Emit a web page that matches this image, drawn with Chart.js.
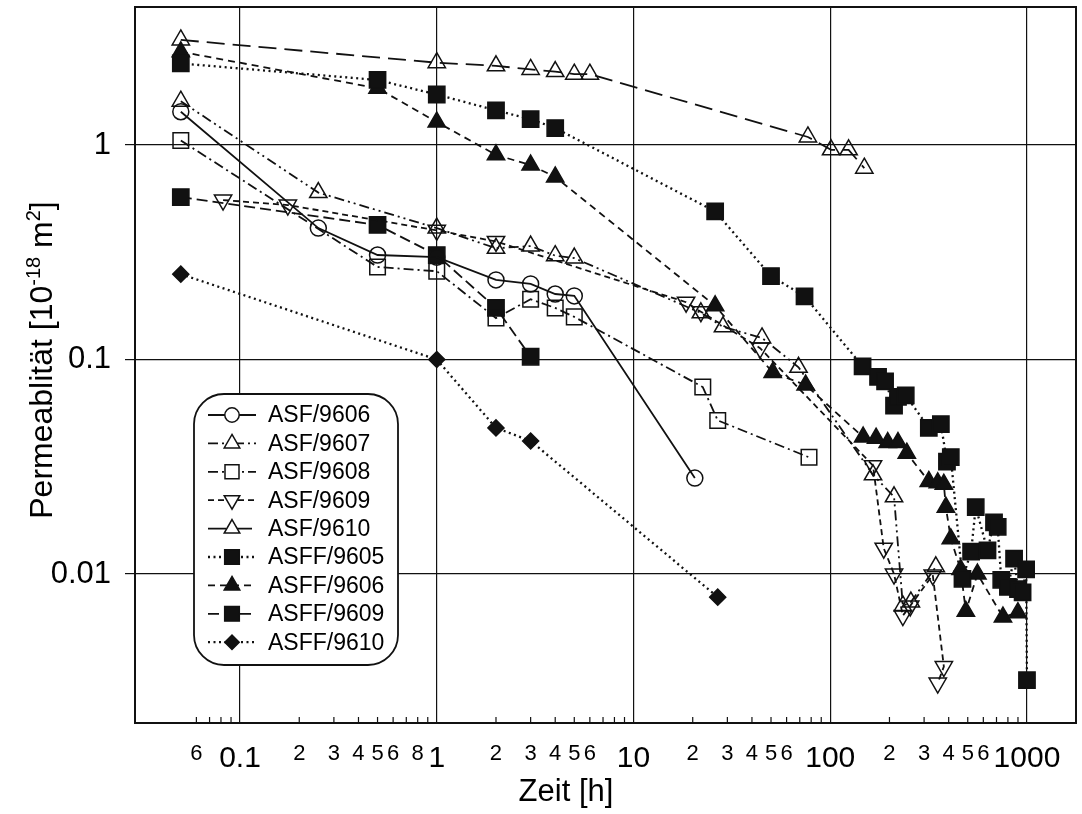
<!DOCTYPE html>
<html>
<head>
<meta charset="utf-8">
<script src="https://cdn.jsdelivr.net/npm/chart.js@4.4.0/dist/chart.umd.min.js"></script>
<style>
  html, body { margin: 0; padding: 0; background: #fff; }
</style>
</head>
<body>
<canvas id="chart" width="1082" height="814"></canvas>
<script>
// time [h] and permeability [1e-18 m2] per sample
const asf9606T = [0.05, 0.25, 0.5, 1, 2, 3, 4, 5, 20.5];
const asf9606K = [1.43, 0.41, 0.307, 0.30, 0.235, 0.225, 0.202, 0.198, 0.028];

const asf9607T = [0.05, 0.25, 1, 2, 3, 4, 5, 22, 28.5, 45, 69, 165, 211, 234, 257, 344];
const asf9607K = [1.6, 0.60, 0.41, 0.33, 0.338, 0.305, 0.297, 0.165, 0.142, 0.126, 0.092, 0.029, 0.0229, 0.0071, 0.0074, 0.0108];

const asf9608T = [0.05, 0.5, 1, 2, 3, 4, 5, 22.5, 26.8, 78];
const asf9608K = [1.05, 0.27, 0.258, 0.156, 0.191, 0.174, 0.158, 0.0744, 0.052, 0.035];

const asf9609T = [0.082, 0.175, 1, 2, 18.5, 22, 44, 165, 187, 211, 234, 255, 332, 378, 352];
const asf9609K = [0.554, 0.525, 0.40, 0.355, 0.185, 0.167, 0.113, 0.032, 0.0132, 0.010, 0.0064, 0.0071, 0.0099, 0.0037, 0.0031];

const asf9610T = [0.05, 1, 2, 3, 4, 5, 6, 77, 101, 124, 149];
const asf9610K = [3.09, 2.42, 2.34, 2.25, 2.20, 2.14, 2.14, 1.09, 0.95, 0.95, 0.78];

const asff9605T = [0.05, 0.5, 1, 2, 3, 4, 26, 50, 74, 146, 175, 190, 211, 221, 242, 317, 365, 392, 410,
                   470, 520, 549, 630, 680, 710, 740, 800, 860, 900, 950, 990, 1000];
const asff9605K = [2.40, 2.01, 1.72, 1.45, 1.32, 1.20, 0.49, 0.245, 0.197, 0.093, 0.083, 0.079, 0.061, 0.067, 0.068, 0.048, 0.050, 0.0334, 0.0351,
                   0.0095, 0.0127, 0.0205, 0.0129, 0.0174, 0.0166, 0.0094, 0.0087, 0.0118, 0.0085, 0.0082, 0.0105, 0.0032];

const asff9606T = [0.05, 0.5, 1, 2, 3, 4, 26, 51, 75, 147, 171, 196, 221, 245, 317, 352, 378, 387, 410, 460, 489, 560, 755, 899];
const asff9606K = [2.72, 1.84, 1.28, 0.90, 0.806, 0.71, 0.178, 0.087, 0.076, 0.0435, 0.043, 0.041, 0.041, 0.0366, 0.027, 0.0266, 0.0262, 0.0205, 0.0146, 0.0105, 0.0067, 0.0100, 0.0063, 0.0066];

const asff9609T = [0.05, 0.5, 1, 2, 3];
const asff9609K = [0.572, 0.424, 0.307, 0.174, 0.103];

const asff9610T = [0.05, 1, 2, 3, 26.8];
const asff9610K = [0.25, 0.10, 0.048, 0.0417, 0.0078];

// axes
const xMajor = [0.1, 1, 10, 100, 1000];
const xMinor = [0.06, 0.07, 0.08, 0.09, 0.2, 0.3, 0.4, 0.5, 0.6, 0.7, 0.8, 0.9,
                2, 3, 4, 5, 6, 7, 8, 9, 20, 30, 40, 50, 60, 70, 80, 90,
                200, 300, 400, 500, 600, 700, 800, 900];
const xLabelVals = [0.06, 0.1, 0.2, 0.3, 0.4, 0.5, 0.6, 0.8, 1, 2, 3, 4, 5, 6, 10,
                    20, 30, 40, 50, 60, 100, 200, 300, 400, 500, 600, 1000];
const xLabelText = ['6', '0.1', '2', '3', '4', '5', '6', '8', '1', '2', '3', '4', '5', '6', '10',
                    '2', '3', '4', '5', '6', '100', '2', '3', '4', '5', '6', '1000'];
const yTickVals = [0.01, 0.1, 1];
const yTickText = ['0.01', '0.1', '1'];

const FONT = '"Liberation Sans", Arial, Helvetica, sans-serif';
const INK = '#111';

function pts(t, k) {
    return t.map((x, i) => ({ x: x, y: k[i] }));
}

function series(label, t, k, dash, style, filled, radius, rot) {
    const dotted = dash.length === 2 && dash[0] <= 2;
    return {
        label: label,
        data: pts(t, k),
        showLine: true,
        borderColor: INK,
        borderWidth: dotted ? 2.3 : 1.8,
        borderDash: dash,
        pointStyle: style,
        pointRadius: radius,
        pointRotation: rot || 0,
        pointBorderWidth: 1.5,
        pointBorderColor: INK,
        pointBackgroundColor: filled ? INK : 'rgba(255,255,255,0)',
        filledMark: filled
    };
}

const datasets = [
    series('ASF/9606', asf9606T, asf9606K, [], 'circle', false, 8),
    series('ASF/9607', asf9607T, asf9607K, [10, 4, 2, 4, 2, 4], 'triangle', false, 10),
    series('ASF/9608', asf9608T, asf9608K, [10, 4, 2, 4], 'rect', false, 11),
    series('ASF/9609', asf9609T, asf9609K, [6, 4], 'triangle', false, 10, 180),
    series('ASF/9610', asf9610T, asf9610K, [18, 8], 'triangle', false, 10),
    series('ASFF/9605', asff9605T, asff9605K, [2, 3.5], 'rect', true, 11.5),
    series('ASFF/9606', asff9606T, asff9606K, [7, 5], 'triangle', true, 10),
    series('ASFF/9609', asff9609T, asff9609K, [11, 5], 'rect', true, 11.5),
    series('ASFF/9610', asff9610T, asff9610K, [2, 3.5], 'rectRot', true, 8)
];

function markPath(ctx, style, x, y, r, rot) {
    const rad = (rot || 0) * Math.PI / 180;
    ctx.beginPath();
    if (style === 'circle') {
        ctx.arc(x, y, r, 0, Math.PI * 2);
    } else if (style === 'triangle') {
        for (let i = 0; i < 3; i++) {
            const a = rad + i * 2 * Math.PI / 3;
            const px = x + Math.sin(a) * r, py = y - Math.cos(a) * r;
            if (i === 0) ctx.moveTo(px, py); else ctx.lineTo(px, py);
        }
        ctx.closePath();
    } else if (style === 'rect') {
        const s = Math.SQRT1_2 * r;
        ctx.rect(x - s, y - s, 2 * s, 2 * s);
    } else if (style === 'rectRot') {
        ctx.moveTo(x - r, y); ctx.lineTo(x, y - r); ctx.lineTo(x + r, y); ctx.lineTo(x, y + r);
        ctx.closePath();
    }
}

// keep the plot box where the figure has it: no extra room for end labels
function noPad(s) {
    s.paddingTop = 0; s.paddingBottom = 0; s.paddingLeft = 0; s.paddingRight = 0;
}

const framePlugin = {
    id: 'frame',
    beforeDatasetsDraw(chart) {
        const { ctx, chartArea: a, scales } = chart;
        ctx.save();
        // inner minor tick marks along the time axis
        ctx.strokeStyle = INK;
        ctx.lineWidth = 1.2;
        xMinor.forEach(v => {
            const px = scales.x.getPixelForValue(v);
            ctx.beginPath();
            ctx.moveTo(px, a.bottom);
            ctx.lineTo(px, a.bottom - 6);
            ctx.stroke();
        });
        ctx.lineWidth = 2;
        ctx.strokeRect(a.left, a.top, a.right - a.left, a.bottom - a.top);
        ctx.restore();
    },
    afterDraw(chart) {
        const { ctx } = chart;
        ctx.save();
        ctx.fillStyle = '#000';
        // x title
        ctx.font = '31px ' + FONT;
        ctx.textAlign = 'center';
        ctx.textBaseline = 'middle';
        ctx.fillText('Zeit [h]', 566, 792);

        // y title with superscripts, rotated
        const big = '32px ' + FONT, small = '20px ' + FONT;
        const parts = [
            ['Permeablität [10', big, 0], ['-18', small, -12], [' m', big, 0], ['2', small, -12], [']', big, 0]
        ];
        let total = 0;
        parts.forEach(p => { ctx.font = p[1]; total += ctx.measureText(p[0]).width; });
        ctx.translate(52, 360);
        ctx.rotate(-Math.PI / 2);
        ctx.textAlign = 'left';
        ctx.textBaseline = 'alphabetic';
        let cx = -total / 2;
        parts.forEach(p => {
            ctx.font = p[1];
            ctx.fillText(p[0], cx, p[2]);
            cx += ctx.measureText(p[0]).width;
        });
        ctx.restore();

        // legend box
        ctx.save();
        const L = 194, T = 394, R = 398, B = 665, rr = 30;
        ctx.beginPath();
        ctx.moveTo(L + rr, T);
        ctx.arcTo(R, T, R, B, rr);
        ctx.arcTo(R, B, L, B, rr);
        ctx.arcTo(L, B, L, T, rr);
        ctx.arcTo(L, T, R, T, rr);
        ctx.closePath();
        ctx.fillStyle = '#fff';
        ctx.fill();
        ctx.lineWidth = 1.8;
        ctx.strokeStyle = INK;
        ctx.stroke();

        chart.data.datasets.forEach((ds, i) => {
            const y = 415 + i * 28.4;
            ctx.setLineDash(ds.borderDash);
            ctx.lineWidth = ds.borderWidth;
            ctx.beginPath();
            ctx.moveTo(208, y);
            ctx.lineTo(256, y);
            ctx.stroke();
            ctx.setLineDash([]);
            markPath(ctx, ds.pointStyle, 232, y, ds.pointRadius * 0.9, ds.pointRotation);
            ctx.fillStyle = ds.filledMark ? INK : '#fff';
            ctx.fill();
            ctx.lineWidth = 1.5;
            ctx.stroke();
            ctx.fillStyle = '#000';
            ctx.font = '23px ' + FONT;
            ctx.textAlign = 'left';
            ctx.textBaseline = 'middle';
            ctx.fillText(ds.label, 268, y + 1);
        });
        ctx.restore();
    }
};

new Chart(document.getElementById('chart'), {
    type: 'scatter',
    data: { datasets: datasets },
    options: {
        responsive: false,
        animation: false,
        devicePixelRatio: 1,
        layout: { autoPadding: false, padding: { top: 7, right: 6, left: 0, bottom: 0 } },
        plugins: { legend: { display: false }, tooltip: { enabled: false } },
        scales: {
            x: {
                type: 'logarithmic',
                position: 'bottom',
                min: 0.02925,
                max: 1775,
                afterBuildTicks: s => { s.ticks = xLabelVals.concat(xMinor.filter(v => xLabelVals.indexOf(v) < 0)).sort((a, b) => a - b).map(v => ({ value: v })); },
                afterFit: s => { s.height = 91; noPad(s); },
                border: { display: false },
                grid: {
                    drawTicks: false,
                    lineWidth: 1.2,
                    color: c => (c.tick && xMajor.indexOf(c.tick.value) >= 0) ? INK : 'rgba(0,0,0,0)'
                },
                ticks: {
                    autoSkip: false,
                    maxRotation: 0,
                    minRotation: 0,
                    padding: 18,
                    color: '#000',
                    font: c => ({ family: FONT, size: (c.tick && xMajor.indexOf(c.tick.value) >= 0) ? 30 : 22 }),
                    callback: v => { const i = xLabelVals.indexOf(v); return i >= 0 ? xLabelText[i] : ''; }
                }
            },
            y: {
                type: 'logarithmic',
                min: 0.00202,
                max: 4.40,
                afterBuildTicks: s => { s.ticks = yTickVals.map(v => ({ value: v })); },
                afterFit: s => { s.width = 135; noPad(s); },
                border: { display: false },
                grid: { color: INK, lineWidth: 1.2, tickLength: 10 },
                ticks: {
                    padding: 14,
                    color: '#000',
                    font: { family: FONT, size: 31 },
                    callback: v => { const i = yTickVals.indexOf(v); return i >= 0 ? yTickText[i] : ''; }
                }
            }
        }
    },
    plugins: [framePlugin]
});
</script>
</body>
</html>
